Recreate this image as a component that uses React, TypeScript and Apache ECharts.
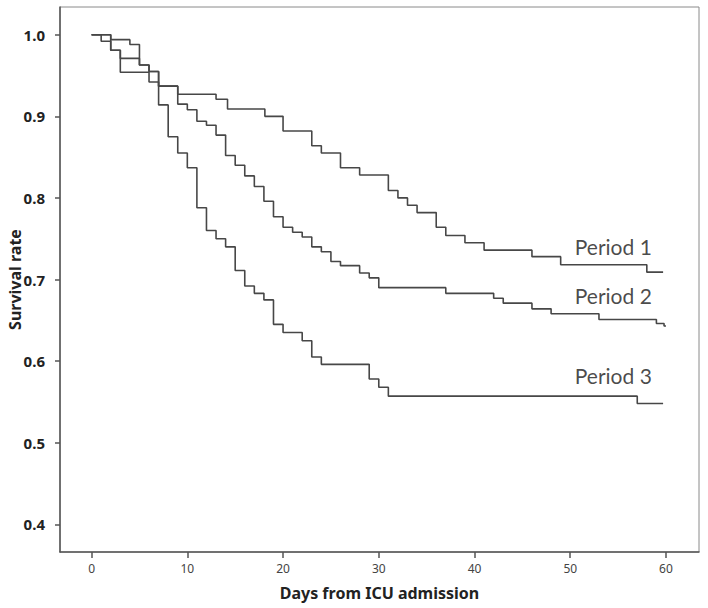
import React, { useEffect, useRef } from "react";
import * as echarts from "echarts";

const xTicks = [0, 10, 20, 30, 40, 50, 60];
const yTicks = [0.4, 0.5, 0.6, 0.7, 0.8, 0.9, 1.0];

// Kaplan-Meier step points: [day, survival] (value holds until next day)
const period1 = [
  [0, 1], [2, 0.994], [4, 0.988], [5, 0.963], [6, 0.955], [7, 0.937], [9, 0.927],
  [13, 0.921], [14.2, 0.909], [18.1, 0.9], [20, 0.882], [23, 0.864], [24, 0.855],
  [26, 0.837], [28, 0.828], [31, 0.809], [32, 0.8], [33, 0.791], [34, 0.782],
  [36, 0.764], [37, 0.754], [39, 0.745], [41, 0.736], [46, 0.728], [49, 0.718],
  [58, 0.709], [59.7, 0.709],
];
const period2 = [
  [0, 1], [2, 0.981], [3, 0.971], [5, 0.963], [6, 0.955], [7, 0.937], [9, 0.915],
  [10, 0.908], [11, 0.894], [12, 0.889], [13, 0.877], [14, 0.852], [15, 0.84],
  [16, 0.827], [17, 0.814], [18, 0.796], [19, 0.777], [20, 0.764], [21, 0.758],
  [22, 0.752], [23, 0.74], [24, 0.734], [25, 0.722], [26, 0.717], [28, 0.708],
  [29, 0.702], [30, 0.69], [37, 0.683], [42, 0.677], [43, 0.671], [46, 0.664],
  [48, 0.658], [53, 0.651], [59, 0.646], [59.8, 0.643], [60, 0.643],
];
const period3 = [
  [0, 1], [1, 0.992], [2, 0.981], [3, 0.954], [6, 0.942], [7, 0.914], [8, 0.875],
  [9, 0.855], [10, 0.837], [11, 0.788], [12, 0.76], [13, 0.75], [14, 0.74],
  [15, 0.711], [16, 0.692], [17, 0.683], [18, 0.675], [19, 0.645], [20, 0.635],
  [22, 0.625], [23, 0.605], [24, 0.596], [29, 0.578], [30, 0.568], [31, 0.557],
  [57, 0.548], [59.7, 0.548],
];

const periodNames = ["Period 1", "Period 2", "Period 3"];
const labelDays = [54.5, 54.5, 54.5];
const labelValues = [0.74, 0.68, 0.582];

export default function App() {
  const ref = useRef<HTMLDivElement>(null);

  useEffect(() => {
    document.body.style.margin = "0";
    if (!ref.current) return;
    const chart = echarts.init(ref.current, null, { renderer: "svg" });
    const lineStyle = { color: "#474747", width: 1.6 };
    const curves = [period1, period2, period3];
    chart.setOption({
      animation: false,
      backgroundColor: "#ffffff",
      grid: {
        left: 60,
        top: 7,
        width: 639,
        height: 545,
        containLabel: false,
        outerBoundsMode: "none",
        show: true,
        borderColor: "#8a8a8a",
        borderWidth: 1,
        backgroundColor: "transparent",
      },
      xAxis: {
        type: "value",
        min: -3.3,
        max: 63.45,
        name: "Days from ICU admission",
        nameLocation: "middle",
        nameGap: 33,
        nameMoveOverlap: false,
        nameTextStyle: {
          fontFamily: "Noto Sans",
          fontWeight: "bold",
          fontSize: 16,
          color: "#222",
        },
        axisLine: { show: true, onZero: false, lineStyle: { color: "#555", width: 1.5 } },
        axisTick: {
          show: true,
          length: 6,
          customValues: xTicks,
          lineStyle: { color: "#555", width: 1.5 },
        },
        axisLabel: {
          customValues: xTicks,
          margin: 10,
          fontFamily: "Noto Sans",
          fontSize: 12,
          color: "#444",
        },
        splitLine: { show: false },
      },
      yAxis: {
        type: "value",
        min: 0.366,
        max: 1.034,
        name: "Survival rate",
        nameLocation: "middle",
        nameGap: 37,
        nameMoveOverlap: false,
        nameTextStyle: {
          fontFamily: "Noto Sans",
          fontWeight: "bold",
          fontSize: 16,
          color: "#222",
        },
        axisLine: { show: true, onZero: false, lineStyle: { color: "#555", width: 1.5 } },
        axisTick: {
          show: true,
          length: 5,
          customValues: yTicks,
          lineStyle: { color: "#555", width: 1.5 },
        },
        axisLabel: {
          customValues: yTicks,
          margin: 15,
          fontFamily: "Noto Sans",
          fontWeight: "bold",
          fontSize: 15,
          color: "#222",
          formatter: (v: number) => v.toFixed(1),
        },
        splitLine: { show: false },
      },
      series: [
        ...curves.map((d, i) => ({
          name: periodNames[i],
          type: "line",
          step: "end",
          data: d,
          showSymbol: false,
          symbol: "none",
          lineStyle,
          silent: true,
        })),
        {
          type: "scatter",
          symbolSize: 0,
          silent: true,
          data: periodNames.map((n, i) => ({ name: n, value: [labelDays[i], labelValues[i]] })),
          label: {
            show: true,
            position: "inside",
            formatter: (p: any) => p.name,
            fontFamily: "Lato",
            fontSize: 21,
            color: "#1a1a1a",
          },
        },
      ],
    });
    return () => chart.dispose();
  }, []);

  return <div ref={ref} style={{ width: 708, height: 608 }} />;
}
